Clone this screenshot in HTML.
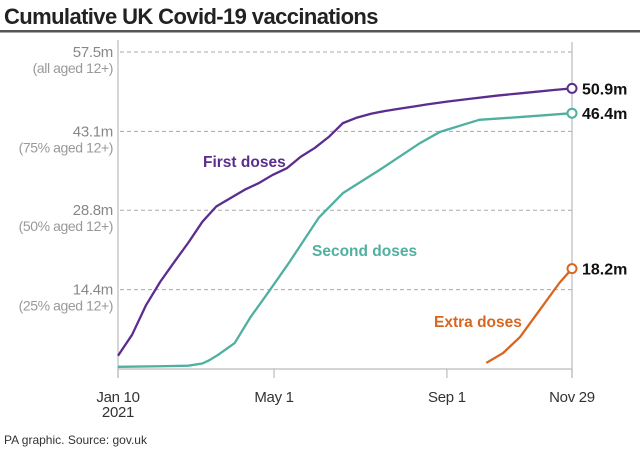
<!DOCTYPE html>
<html><head><meta charset="utf-8"><style>
body{margin:0;background:#fff;width:640px;height:452px;overflow:hidden;font-family:"Liberation Sans",sans-serif}
</style></head><body>
<svg width="640" height="452" id="chart" style="font-family:'Liberation Sans',sans-serif">
<text x="4" y="24" font-size="22" font-weight="bold" fill="#222" letter-spacing="-0.6">Cumulative UK Covid-19 vaccinations</text>
<rect x="0" y="30" width="640" height="2.5" fill="#555"/>
<g id="grid"></g>
<g id="axes"></g>
<g id="series"></g>
<text x="203" y="167" font-size="15.5" font-weight="bold" fill="#5b2d8e">First doses</text>
<text x="312" y="256" font-size="15.5" font-weight="bold" fill="#4fb0a0">Second doses</text>
<text x="434" y="327" font-size="15.5" font-weight="bold" fill="#d9661f">Extra doses</text>
<text x="4" y="444" font-size="12" fill="#333">PA graphic. Source: gov.uk</text>
</svg>
<script>
const yTicks=[57.5,43.1,28.8,14.4];
const yTickLabels=["57.5m","43.1m","28.8m","14.4m"];
const ySubLabels=["(all aged 12+)","(75% aged 12+)","(50% aged 12+)","(25% aged 12+)"];
const xTickDays=[0,111,234,323];
const xTickLabels=["Jan 10","May 1","Sep 1","Nov 29"];
const firstDays=[0,10,20,30,40,50,60,70,80,90,100,110,120,130,140,150,160,170,180,190,200,210,220,234,250,270,290,310,323];
const firstVals=[2.4,6.2,11.6,15.8,19.4,22.9,26.7,29.5,31.0,32.5,33.7,35.2,36.4,38.5,40.1,42.1,44.6,45.6,46.3,46.8,47.2,47.6,48.0,48.5,49.0,49.6,50.1,50.6,50.9];
const secondDays=[0,30,50,60,65,72,83,94,108,122,137,143,160,186,215,229,234,257,286,323];
const secondVals=[0.4,0.5,0.6,1.0,1.6,2.7,4.7,9.3,14.3,19.4,25.2,27.5,31.9,36.1,41.0,43.0,43.4,45.2,45.7,46.4];
const extraDays=[262,274,286,300,314,323];
const extraVals=[1.1,2.9,5.8,10.7,15.6,18.2];
const endLabels=["50.9m","46.4m","18.2m"];
const NS="http://www.w3.org/2000/svg";
const x=d=>118+d*(572-118)/323;
const y=v=>369-v*(369-52)/57.5;
function mk(tag,attrs,parent,txt){const e=document.createElementNS(NS,tag);for(const k in attrs)e.setAttribute(k,attrs[k]);if(txt!==undefined)e.textContent=txt;parent.appendChild(e);return e;}
const grid=document.getElementById('grid'),axes=document.getElementById('axes'),ser=document.getElementById('series');
yTicks.forEach((t,i)=>{
 const l=mk('line',{x1:120,x2:572,y1:y(t),y2:y(t),stroke:'#aaa','stroke-dasharray':'4,3','stroke-width':1},grid);
 
 
 const a=mk('text',{x:113,y:y(t)+5,'text-anchor':'end','font-size':15,fill:'#888','letter-spacing':'-0.3'},grid,yTickLabels[i]);
 
 
 const b=mk('text',{x:113,y:y(t)+21,'text-anchor':'end','font-size':14,fill:'#999','letter-spacing':'-0.4'},grid,ySubLabels[i]);
 
 
});
const ax=mk('line',{x1:118,x2:118,y1:40,y2:378,stroke:'#bbb','stroke-width':1.2},axes);


const rx=mk('line',{x1:572,x2:572,y1:42,y2:378,stroke:'#bbb','stroke-width':1.2},axes);


const bx=mk('line',{x1:118,x2:572,y1:369,y2:369,stroke:'#bbb','stroke-width':1.2},axes);


xTickDays.forEach((d,i)=>{
 const t=mk('line',{x1:x(d),x2:x(d),y1:369,y2:378,stroke:'#bbb','stroke-width':1.2},axes);
 
 
 const l=mk('text',{x:x(d),y:402,'text-anchor':'middle','font-size':15,fill:'#333','letter-spacing':'-0.3'},axes,xTickLabels[i]);
 
 
});
const yr=mk('text',{x:118,y:417,'text-anchor':'middle','font-size':15,fill:'#333','letter-spacing':'-0.3'},axes,'2021');


const series=[[firstDays,firstVals,'#5b2d8e','first-doses'],[secondDays,secondVals,'#4fb0a0','second-doses'],[extraDays,extraVals,'#d9661f','extra-doses']];
series.forEach((s,i)=>{
 const [ds,vs,c,n]=s;
 const p=mk('polyline',{points:ds.map((d,j)=>x(d)+','+y(vs[j])).join(' '),fill:'none',stroke:c,'stroke-width':2.3,'stroke-linejoin':'round'},ser);
 
 
 const ld=ds[ds.length-1],lv=vs[vs.length-1];
 const m=mk('circle',{cx:x(ld),cy:y(lv),r:4.5,fill:'#fff',stroke:c,'stroke-width':2},ser);
 
 
 const t=mk('text',{x:x(ld)+10,y:y(lv)+6,'font-size':16,'font-weight':'bold',fill:'#111'},ser,endLabels[i]);
 
 
});
</script>
</body></html>
